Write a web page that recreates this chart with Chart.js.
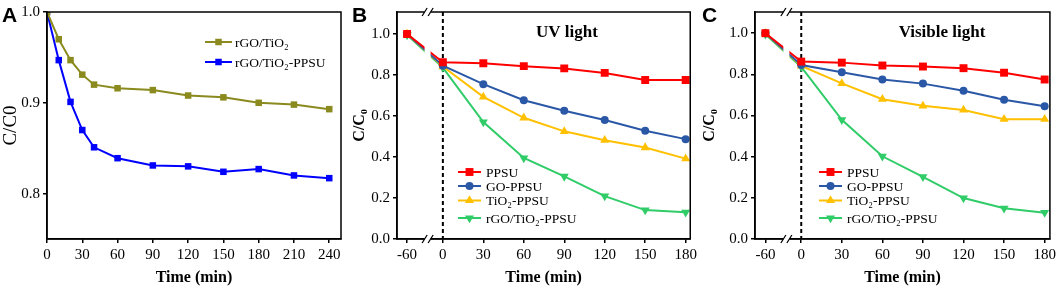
<!DOCTYPE html>
<html>
<head>
<meta charset="utf-8">
<script src="https://cdn.jsdelivr.net/npm/chart.js@4.4.0/dist/chart.umd.min.js"></script>
<style>
    html, body { margin: 0; padding: 0; background: #fff; }
    #wrap { position: relative; width: 1059px; height: 287px; overflow: hidden; }
    canvas { position: absolute; top: 0; }
</style>
</head>
<body>
<div id="wrap">
    <canvas id="chartA" width="350" height="287" style="left:0px"></canvas>
    <canvas id="chartB" width="350" height="287" style="left:350px"></canvas>
    <canvas id="chartC" width="359" height="287" style="left:700px"></canvas>
</div>
<script>
// ---- panel A: adsorption/photocatalysis over 240 min
const timeA = [0, 10, 20, 30, 40, 60, 90, 120, 150, 180, 210, 240];
const rgoTio2A = [1.0, 0.970, 0.947, 0.931, 0.920, 0.916, 0.914, 0.908, 0.906, 0.900, 0.898, 0.893];
const rgoTio2PpsuA = [1.0, 0.947, 0.901, 0.870, 0.851, 0.839, 0.831, 0.830, 0.824, 0.827, 0.820, 0.817];
const xTicksA = [0, 30, 60, 90, 120, 150, 180, 210, 240];
const yTicksA = [0.8, 0.9, 1.0];

// ---- panels B (UV) and C (visible)
const timeBC = [-60, 0, 30, 60, 90, 120, 150, 180];
const ppsuUV = [1.0, 0.862, 0.857, 0.843, 0.832, 0.810, 0.775, 0.775];
const goPpsuUV = [1.0, 0.845, 0.755, 0.677, 0.625, 0.580, 0.528, 0.487];
const tio2PpsuUV = [1.0, 0.841, 0.693, 0.591, 0.525, 0.482, 0.446, 0.392];
const rgoTio2PpsuUV = [0.995, 0.836, 0.570, 0.395, 0.305, 0.209, 0.141, 0.130];

const ppsuVis = [1.0, 0.862, 0.857, 0.843, 0.838, 0.830, 0.808, 0.775];
const goPpsuVis = [1.0, 0.845, 0.810, 0.775, 0.755, 0.720, 0.677, 0.645];
const tio2PpsuVis = [1.0, 0.841, 0.756, 0.679, 0.647, 0.627, 0.582, 0.582];
const rgoTio2PpsuVis = [0.995, 0.836, 0.579, 0.402, 0.302, 0.199, 0.149, 0.128];

const xTicksBC = [-60, 0, 30, 60, 90, 120, 150, 180];
const yTicksBC = [0.0, 0.2, 0.4, 0.6, 0.8, 1.0];

// the time axis is broken between -60 and 0, so the negative part is squeezed
const brk = t => t < 0 ? t * 0.442 : t;

Chart.defaults.font.family = '"Liberation Serif", "Times New Roman", serif';
Chart.defaults.color = '#000';

const serif = '"Liberation Serif", "Times New Roman", serif';

const deco = {
    id: 'deco',
    beforeDatasetsDraw(chart, args, opts) {
        if (opts.zeroLine === undefined) return;
        const { ctx, chartArea } = chart;
        const x = chart.scales.x.getPixelForValue(opts.zeroLine);
        ctx.save();
        ctx.strokeStyle = '#000';
        ctx.lineWidth = 2;
        ctx.setLineDash([4, 3]);
        ctx.beginPath();
        ctx.moveTo(x, chartArea.top);
        ctx.lineTo(x, chartArea.bottom);
        ctx.stroke();
        ctx.restore();
    },
    afterDatasetsDraw(chart, args, opts) {
        const { ctx, chartArea: a } = chart;
        ctx.save();
        ctx.strokeStyle = '#000';
        ctx.lineWidth = 1.5;
        ctx.strokeRect(a.left, a.top, a.right - a.left, a.bottom - a.top);
        if (opts.breakAt !== undefined) {
            const bx = chart.scales.x.getPixelForValue(opts.breakAt);
            ctx.fillStyle = '#fff';
            ctx.fillRect(bx - 3, a.top - 3, 6, a.bottom - a.top + 6);
            ctx.lineWidth = 1.3;
            [a.top, a.bottom].forEach(y => {
                [-3, 3].forEach(d => {
                    ctx.beginPath();
                    ctx.moveTo(bx + d - 2.5, y + 4);
                    ctx.lineTo(bx + d + 2.5, y - 4);
                    ctx.stroke();
                });
            });
        }
        ctx.restore();
    },
    afterDraw(chart, args, opts) {
        const ctx = chart.ctx;
        ctx.save();
        // panel letter
        ctx.fillStyle = '#000';
        ctx.font = 'bold 21px "Liberation Sans", Arial, sans-serif';
        ctx.textBaseline = 'alphabetic';
        ctx.textAlign = 'left';
        ctx.fillText(opts.letter, opts.letterX, 22);
        // light condition note
        if (opts.note) {
            ctx.font = 'bold 17px ' + serif;
            ctx.textAlign = 'center';
            ctx.textBaseline = 'middle';
            ctx.fillText(opts.note, opts.noteX, 33);
        }
        // legend: line + marker, then label
        const lg = opts.legend;
        ctx.font = '13.5px ' + serif;
        ctx.textAlign = 'left';
        ctx.textBaseline = 'middle';
        chart.data.datasets.forEach((ds, i) => {
            const y = lg.rows[i];
            ctx.strokeStyle = ds.borderColor;
            ctx.lineWidth = 2;
            ctx.beginPath();
            ctx.moveTo(lg.x0, y);
            ctx.lineTo(lg.x1, y);
            ctx.stroke();
            ctx.fillStyle = ds.borderColor;
            Chart.helpers.drawPoint(ctx, {
                pointStyle: ds.pointStyle,
                radius: ds.pointRadius,
                rotation: ds.pointRotation || 0,
                borderWidth: 0
            }, (lg.x0 + lg.x1) / 2, y);
            ctx.fillStyle = '#000';
            ctx.fillText(ds.label, lg.textX, y + 1);
        });
        ctx.restore();
    }
};

function series(label, xs, ys, color, style, radius, rotation) {
    return {
        label: label,
        data: xs.map((t, i) => ({ x: brk(t), y: ys[i] })),
        borderColor: color,
        backgroundColor: color,
        borderWidth: 2,
        pointStyle: style,
        pointRadius: radius,
        pointRotation: rotation || 0,
        pointBorderWidth: 0,
        pointBackgroundColor: color,
        tension: 0
    };
}

function axisStyle() {
    return {
        border: { color: '#000', width: 1.5 },
        grid: { drawOnChartArea: false, drawTicks: true, tickLength: 4, color: '#000', lineWidth: 1.5 }
    };
}

function makeChart(id, cfg) {
    return new Chart(document.getElementById(id), {
        type: 'line',
        data: { datasets: cfg.datasets },
        options: {
            responsive: false,
            animation: false,
            layout: { padding: cfg.padding },
            plugins: {
                legend: { display: false },
                tooltip: { enabled: false },
                deco: cfg.deco
            },
            scales: {
                x: {
                    type: 'linear',
                    min: cfg.xMin,
                    max: cfg.xMax,
                    ...axisStyle(),
                    afterBuildTicks: s => { s.ticks = cfg.xTicks.map(v => ({ value: brk(v) })); },
                    afterFit: s => { s.height = 48; },
                    ticks: {
                        autoSkip: false, maxRotation: 0, padding: 3,
                        font: { size: 15 },
                        callback: (v, i) => String(cfg.xTicks[i])
                    },
                    title: {
                        display: true, text: 'Time (min)', padding: 0,
                        font: { size: 16, weight: 'bold' }
                    }
                },
                y: {
                    type: 'linear',
                    min: cfg.yMin,
                    max: cfg.yMax,
                    ...axisStyle(),
                    afterBuildTicks: s => { s.ticks = cfg.yTicks.map(v => ({ value: v })); },
                    afterFit: s => { s.width = cfg.yWidth; },
                    ticks: {
                        padding: 3,
                        font: { size: 15 },
                        callback: v => v.toFixed(1)
                    },
                    title: {
                        display: true, text: cfg.yTitle, padding: 0,
                        font: { size: cfg.yTitleSize, weight: cfg.yTitleWeight }
                    }
                }
            }
        },
        plugins: [deco]
    });
}

const red = '#ff0000', navy = '#2a58a6', amber = '#ffc000', green = '#2fcc68';

makeChart('chartA', {
    datasets: [
        series('rGO/TiO\u2082', timeA, rgoTio2A, '#8a8a1e', 'rect', 4.6),
        series('rGO/TiO\u2082-PPSU', timeA, rgoTio2PpsuA, '#0000ff', 'rect', 4.6)
    ],
    padding: { left: 0, top: 10, right: 9, bottom: 0 },
    xMin: 0, xMax: 250, xTicks: xTicksA,
    yMin: 0.75, yMax: 1.0, yTicks: yTicksA, yWidth: 47,
    yTitle: 'C/C0', yTitleWeight: 'normal', yTitleSize: 19,
    deco: {
        letter: 'A', letterX: 2,
        legend: { x0: 205, x1: 232, textX: 235, rows: [42, 62] }
    }
});

makeChart('chartB', {
    datasets: [
        series('PPSU', timeBC, ppsuUV, red, 'rect', 5.6),
        series('GO-PPSU', timeBC, goPpsuUV, navy, 'circle', 4),
        series('TiO\u2082-PPSU', timeBC, tio2PpsuUV, amber, 'triangle', 5.2),
        series('rGO/TiO\u2082-PPSU', timeBC, rgoTio2PpsuUV, green, 'triangle', 5.2, 180)
    ],
    padding: { left: 0, top: 5, right: 6, bottom: 0 },
    xMin: -34, xMax: 183.4, xTicks: xTicksBC,
    yMin: 0, yMax: 1.107, yTicks: yTicksBC, yWidth: 47,
    yTitle: 'C/C\u2080', yTitleWeight: 'bold', yTitleSize: 16,
    deco: {
        letter: 'B', letterX: 2,
        zeroLine: 0, breakAt: -11.3,
        note: 'UV light', noteX: 217,
        legend: { x0: 108, x1: 131, textX: 136, rows: [172, 186, 200.5, 218] }
    }
});

makeChart('chartC', {
    datasets: [
        series('PPSU', timeBC, ppsuVis, red, 'rect', 5.6),
        series('GO-PPSU', timeBC, goPpsuVis, navy, 'circle', 4),
        series('TiO\u2082-PPSU', timeBC, tio2PpsuVis, amber, 'triangle', 5.2),
        series('rGO/TiO\u2082-PPSU', timeBC, rgoTio2PpsuVis, green, 'triangle', 5.2, 180)
    ],
    padding: { left: 0, top: 6, right: 6, bottom: 0 },
    xMin: -34.2, xMax: 183.9, xTicks: xTicksBC,
    yMin: 0, yMax: 1.103, yTicks: yTicksBC, yWidth: 55,
    yTitle: 'C/C\u2080', yTitleWeight: 'bold', yTitleSize: 16,
    deco: {
        letter: 'C', letterX: 2,
        zeroLine: 0, breakAt: -11,
        note: 'Visible light', noteX: 242,
        legend: { x0: 119, x1: 142, textX: 147, rows: [172, 186, 200.5, 218] }
    }
});
</script>
</body>
</html>
